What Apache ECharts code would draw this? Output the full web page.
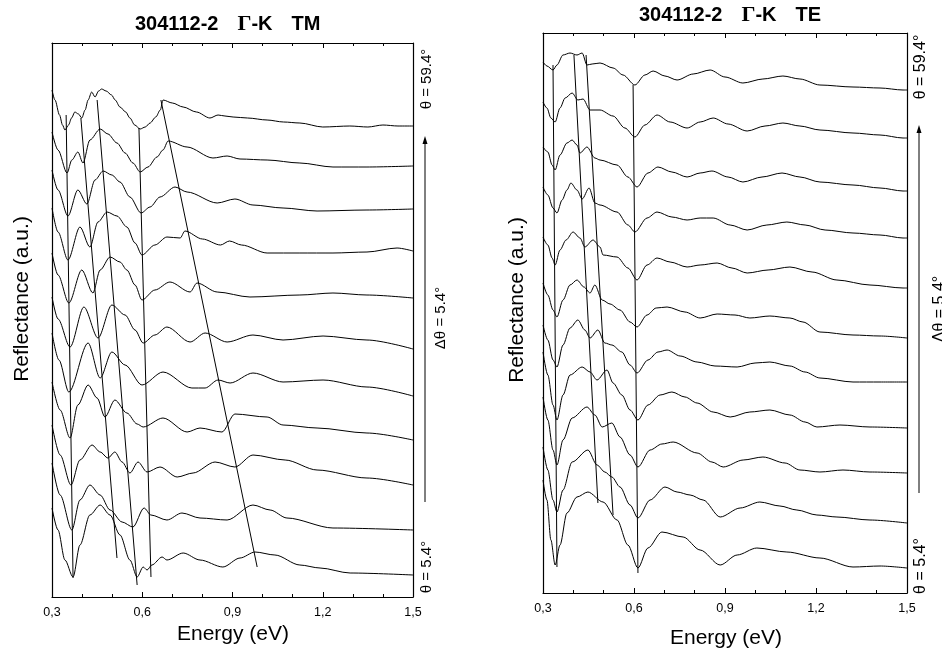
<!DOCTYPE html>
<html><head><meta charset="utf-8">
<script src="https://cdn.jsdelivr.net/npm/echarts/dist/echarts.min.js"></script>
<style>html,body{margin:0;padding:0;background:#fff}#c{width:942px;height:652px}</style>
</head><body><div id="c"></div>
<script>
// angles of incidence, top curve first
const angles = [59.4, 54.0, 48.6, 43.2, 37.8, 32.4, 27.0, 21.6, 16.2, 10.8, 5.4];
const xTicks = [0.3, 0.6, 0.9, 1.2, 1.5];

// ---- TM curves: [energy (eV), reflectance + offset (a.u.)]
const tm1 = [[0.30,50.7],[0.31,49.7],[0.325,48.2],[0.335,47.2],[0.343,46.7],[0.355,47.2],[0.365,47.9],[0.376,48.5],[0.388,48.3],[0.399,47.9],[0.41,48.7],[0.42,49.7],[0.432,50.5],[0.443,50.0],[0.455,50.6],[0.465,50.8],[0.48,50.6],[0.498,50.2],[0.51,49.7],[0.526,49.0],[0.545,48.5],[0.559,47.9],[0.575,47.2],[0.593,46.8],[0.61,47.0],[0.626,47.4],[0.645,48.0],[0.66,48.7],[0.669,49.7],[0.70,49.4],[0.736,49.0],[0.78,48.5],[0.825,47.9],[0.852,48.2],[0.875,48.1],[0.902,48.0],[0.95,47.9],[1.015,47.7],[1.07,47.5],[1.124,47.4],[1.2,47.0],[1.29,47.1],[1.35,47.0],[1.4,47.2],[1.45,47.1],[1.5,47.1]];
const tm2 = [[0.30,46.5],[0.32,44.7],[0.35,42.4],[0.366,43.7],[0.386,44.5],[0.403,43.4],[0.426,45.7],[0.46,46.8],[0.486,46.3],[0.516,45.4],[0.543,44.4],[0.569,43.4],[0.593,42.5],[0.619,43.0],[0.649,44.0],[0.669,44.7],[0.686,45.6],[0.749,45.0],[0.835,43.9],[0.882,44.1],[0.925,43.8],[1.015,43.7],[1.124,43.4],[1.234,43.0],[1.347,43.0],[1.5,43.1]];
const tm3 = [[0.30,42.7],[0.32,40.7],[0.353,38.1],[0.386,40.7],[0.416,39.3],[0.443,41.7],[0.47,42.6],[0.499,42.2],[0.526,41.5],[0.559,40.0],[0.596,38.4],[0.626,39.0],[0.659,40.0],[0.709,41.0],[0.749,40.5],[0.849,39.4],[0.908,39.8],[0.968,39.2],[1.068,38.9],[1.181,38.6],[1.347,38.7],[1.5,38.8]];
const tm4 = [[0.30,38.9],[0.32,36.5],[0.353,33.7],[0.393,37.0],[0.426,35.0],[0.453,37.5],[0.483,38.5],[0.516,38.1],[0.549,37.0],[0.576,35.4],[0.599,34.2],[0.642,35.2],[0.682,36.0],[0.726,35.9],[0.742,36.6],[0.80,35.8],[0.86,35.2],[0.89,35.6],[0.93,35.2],[1.015,34.4],[1.124,34.4],[1.234,34.4],[1.347,34.5],[1.447,34.9],[1.5,34.6]];
const tm5 = [[0.30,34.4],[0.32,32.2],[0.356,29.4],[0.399,32.7],[0.436,30.4],[0.46,32.7],[0.493,34.0],[0.526,33.5],[0.549,32.7],[0.576,31.2],[0.599,29.7],[0.642,30.7],[0.692,31.5],[0.759,30.5],[0.782,31.4],[0.849,30.5],[0.958,30.0],[1.124,30.2],[1.234,30.4],[1.347,30.2],[1.5,29.9]];
const tm6 = [[0.30,30.0],[0.32,27.8],[0.36,25.0],[0.406,29.0],[0.453,25.9],[0.499,29.2],[0.543,28.2],[0.576,26.7],[0.603,25.4],[0.642,26.2],[0.682,27.0],[0.759,25.5],[0.809,26.4],[0.882,25.5],[0.968,26.2],[1.068,25.7],[1.201,26.1],[1.347,25.7],[1.5,24.8]];
const tm7 = [[0.30,26.4],[0.323,23.7],[0.356,20.5],[0.42,25.4],[0.46,21.9],[0.499,24.5],[0.543,23.2],[0.599,21.2],[0.669,22.5],[0.765,20.9],[0.809,20.9],[0.852,21.7],[0.892,21.4],[0.968,22.4],[1.068,21.5],[1.201,21.7],[1.347,21.0],[1.5,20.1]];
const tm8 = [[0.30,21.5],[0.327,18.7],[0.36,15.9],[0.386,19.2],[0.42,21.2],[0.45,19.9],[0.476,18.0],[0.509,19.7],[0.549,18.4],[0.583,17.3],[0.603,17.0],[0.669,17.9],[0.749,16.5],[0.792,16.9],[0.865,16.5],[0.908,18.3],[1.015,18.0],[1.068,17.2],[1.181,16.9],[1.347,16.4],[1.5,15.7]];
const tm9 = [[0.30,17.2],[0.327,14.2],[0.363,11.2],[0.393,13.7],[0.433,15.2],[0.46,14.5],[0.486,13.9],[0.509,14.5],[0.533,13.5],[0.559,12.4],[0.586,13.5],[0.616,12.5],[0.659,13.0],[0.716,12.0],[0.769,12.4],[0.842,13.5],[0.908,13.0],[0.968,14.2],[1.075,13.7],[1.181,12.7],[1.347,11.9],[1.5,11.2]];
const tm10 = [[0.30,13.4],[0.327,10.2],[0.366,6.7],[0.393,9.7],[0.426,11.2],[0.46,10.2],[0.493,8.7],[0.533,7.5],[0.569,7.0],[0.606,8.9],[0.629,8.2],[0.682,7.7],[0.732,8.4],[0.792,7.9],[0.882,7.7],[0.968,9.2],[1.025,8.7],[1.081,7.9],[1.234,6.9],[1.5,6.7]];
const tm11 = [[0.30,8.9],[0.32,6.7],[0.343,3.7],[0.37,2.0],[0.393,5.2],[0.426,8.2],[0.46,9.2],[0.493,8.2],[0.526,6.2],[0.559,3.7],[0.583,2.0],[0.603,3.0],[0.616,2.7],[0.632,3.2],[0.666,4.0],[0.682,3.7],[0.736,4.4],[0.792,3.7],[0.868,3.0],[0.925,3.9],[0.975,4.5],[1.041,4.2],[1.124,3.2],[1.191,2.9],[1.291,2.4],[1.5,2.2]];

// ---- TE curves
const te1 = [[0.30,53.1],[0.313,52.7],[0.333,52.3],[0.346,52.8],[0.366,53.8],[0.389,54.0],[0.412,53.8],[0.429,54.0],[0.445,52.8],[0.462,52.9],[0.488,53.0],[0.531,52.5],[0.564,51.8],[0.603,50.8],[0.636,51.8],[0.663,52.2],[0.702,51.7],[0.742,51.3],[0.795,51.9],[0.851,52.3],[0.90,51.6],[0.959,51.0],[1.025,51.4],[1.091,51.7],[1.147,51.4],[1.213,50.8],[1.322,50.6],[1.411,50.5],[1.487,50.3],[1.5,50.3]];
const te2 = [[0.30,49.1],[0.313,48.5],[0.326,47.5],[0.34,47.1],[0.356,48.5],[0.373,49.5],[0.396,50.0],[0.415,49.3],[0.432,49.4],[0.455,48.3],[0.488,48.3],[0.531,47.7],[0.570,46.5],[0.603,45.6],[0.636,46.8],[0.676,47.8],[0.719,47.1],[0.775,46.5],[0.818,47.1],[0.861,47.5],[0.910,46.9],[0.973,46.2],[1.032,46.7],[1.091,47.0],[1.147,46.7],[1.213,46.3],[1.322,46.0],[1.411,45.8],[1.487,45.5],[1.5,45.5]];
const te3 = [[0.30,44.6],[0.316,44.1],[0.33,42.8],[0.34,42.3],[0.356,43.8],[0.379,45.0],[0.396,45.3],[0.412,44.8],[0.422,44.0],[0.445,44.6],[0.471,43.5],[0.488,43.3],[0.544,42.8],[0.580,41.6],[0.610,40.6],[0.646,42.0],[0.679,42.6],[0.725,42.1],[0.775,41.6],[0.818,42.0],[0.857,42.2],[0.910,41.6],[0.959,41.1],[1.022,41.6],[1.088,42.0],[1.147,41.6],[1.213,41.1],[1.322,40.8],[1.411,40.5],[1.487,40.2],[1.5,40.2]];
const te4 = [[0.30,40.6],[0.316,39.8],[0.333,38.5],[0.346,38.0],[0.363,39.3],[0.379,40.3],[0.392,41.0],[0.412,40.3],[0.429,39.4],[0.452,40.5],[0.471,39.0],[0.488,38.8],[0.544,38.1],[0.580,36.8],[0.603,36.1],[0.643,37.5],[0.676,38.1],[0.725,37.6],[0.775,37.3],[0.818,37.5],[0.861,37.5],[0.917,36.8],[0.973,36.3],[1.038,36.8],[1.104,37.1],[1.164,36.8],[1.230,36.3],[1.322,36.0],[1.411,35.8],[1.487,35.5],[1.5,35.5]];
const te5 = [[0.30,35.6],[0.316,34.8],[0.33,33.5],[0.34,32.8],[0.356,34.3],[0.376,35.3],[0.399,36.1],[0.422,35.5],[0.438,34.6],[0.465,35.3],[0.488,34.6],[0.498,33.8],[0.544,33.6],[0.580,32.5],[0.610,31.3],[0.643,32.8],[0.676,33.5],[0.719,33.1],[0.775,32.6],[0.818,32.8],[0.874,33.0],[0.923,32.5],[0.973,32.0],[1.042,32.3],[1.114,32.6],[1.187,32.1],[1.269,31.3],[1.378,30.8],[1.487,30.5],[1.5,30.5]];
const te6 = [[0.30,31.0],[0.316,29.8],[0.333,28.3],[0.346,27.6],[0.366,29.3],[0.389,30.8],[0.412,31.3],[0.435,30.6],[0.455,30.0],[0.471,30.8],[0.495,29.3],[0.521,28.9],[0.554,28.3],[0.587,27.1],[0.610,26.6],[0.643,27.8],[0.673,28.5],[0.709,28.6],[0.768,28.1],[0.818,27.5],[0.874,27.9],[0.933,27.8],[0.982,27.5],[1.048,27.7],[1.114,27.5],[1.157,27.1],[1.213,26.1],[1.322,25.8],[1.411,25.7],[1.5,25.5]];
const te7 = [[0.30,26.8],[0.316,25.3],[0.333,23.3],[0.346,22.6],[0.366,24.8],[0.389,26.5],[0.415,27.3],[0.438,26.3],[0.455,25.5],[0.481,26.3],[0.504,25.0],[0.527,24.8],[0.560,24.1],[0.587,22.8],[0.610,22.0],[0.646,23.3],[0.679,24.1],[0.709,24.3],[0.752,23.7],[0.808,23.1],[0.867,22.7],[0.940,22.6],[0.999,23.0],[1.048,23.1],[1.114,22.7],[1.164,22.1],[1.213,21.5],[1.322,21.1],[1.411,21.1],[1.5,21.1]];
const te8 = [[0.30,24.1],[0.316,21.8],[0.333,18.8],[0.346,17.3],[0.366,19.8],[0.389,21.8],[0.429,22.6],[0.455,22.1],[0.478,21.3],[0.511,22.3],[0.531,21.0],[0.560,19.8],[0.587,18.3],[0.613,17.3],[0.646,18.8],[0.686,19.8],[0.725,20.1],[0.768,19.6],[0.808,19.0],[0.861,18.1],[0.917,17.6],[0.982,18.1],[1.048,18.3],[1.114,17.8],[1.164,17.1],[1.203,16.6],[1.279,16.8],[1.378,16.6],[1.5,16.5]];
const te9 = [[0.30,19.6],[0.316,17.3],[0.333,14.3],[0.346,12.8],[0.366,15.3],[0.396,17.5],[0.445,18.6],[0.471,17.8],[0.495,16.6],[0.527,17.0],[0.554,15.6],[0.587,13.8],[0.613,12.6],[0.653,14.3],[0.692,14.9],[0.729,15.1],[0.808,14.0],[0.857,13.1],[0.894,12.6],[0.960,13.3],[1.025,13.6],[1.098,13.0],[1.147,12.3],[1.213,12.1],[1.289,12.3],[1.378,12.1],[1.5,12.0]];
const te10 = [[0.30,14.6],[0.316,12.3],[0.333,9.3],[0.346,8.1],[0.366,10.3],[0.396,13.1],[0.448,14.3],[0.478,12.8],[0.504,12.1],[0.527,11.6],[0.554,10.6],[0.587,8.8],[0.613,7.5],[0.653,9.3],[0.702,10.6],[0.742,10.1],[0.785,9.8],[0.828,9.3],[0.884,7.6],[0.950,8.5],[1.015,9.1],[1.081,8.7],[1.137,8.3],[1.203,7.8],[1.269,7.6],[1.378,7.3],[1.5,7.0]];
const te11 = [[0.30,11.3],[0.313,9.3],[0.326,5.3],[0.340,2.8],[0.356,4.8],[0.379,8.0],[0.412,9.6],[0.448,10.1],[0.498,9.1],[0.544,7.3],[0.580,4.8],[0.613,2.5],[0.646,4.5],[0.692,6.1],[0.762,5.6],[0.818,4.3],[0.884,2.8],[0.940,3.8],[1.005,4.5],[1.104,4.1],[1.213,3.5],[1.322,2.6],[1.411,2.7],[1.5,2.5]];

// ---- guide lines following the features (start/end in data units)
const tmGuides = [
  [[0.347,48.2],[0.370,1.9]],
  [[0.396,47.9],[0.516,3.9]],
  [[0.450,49.7],[0.583,1.2]],
  [[0.589,46.9],[0.629,2.0]],
  [[0.662,49.7],[0.982,3.0]]
];
const teGuides = [
  [[0.333,52.8],[0.346,2.6]],
  [[0.402,53.8],[0.481,9.0]],
  [[0.442,53.8],[0.531,7.8]],
  [[0.597,50.8],[0.613,2.0]]
];

const tmCurves = [tm1,tm2,tm3,tm4,tm5,tm6,tm7,tm8,tm9,tm10,tm11];
const teCurves = [te1,te2,te3,te4,te5,te6,te7,te8,te9,te10,te11];

const FONT = '"Liberation Sans", Arial, sans-serif';

function xAxesFor(grid){
  const common = {
    gridIndex: grid, type: 'value', min: xTicks[0], max: xTicks[xTicks.length-1], interval: 0.3,
    axisLine: {show: true, onZero: false, lineStyle: {color: '#000', width: 1.2}},
    axisTick: {show: true, inside: true, length: 5, lineStyle: {color: '#000', width: 1}},
    minorTick: {show: true, splitNumber: 3, length: 3, lineStyle: {color: '#000', width: 1}},
    splitLine: {show: false}, minorSplitLine: {show: false}
  };
  return [
    Object.assign({}, common, {position: 'bottom',
      axisLabel: {show: true, margin: 9, color: '#000', fontSize: 12.5, fontFamily: FONT,
        formatter: v => v.toFixed(1).replace('.', ',')}}),
    Object.assign({}, common, {position: 'top', axisLabel: {show: false}})
  ];
}
function yAxesFor(grid, max){
  const common = {gridIndex: grid, type: 'value', min: 0, max: max,
    axisLine: {show: true, onZero: false, lineStyle: {color: '#000', width: 1.2}},
    axisTick: {show: false}, axisLabel: {show: false}, splitLine: {show: false}};
  return [Object.assign({}, common, {position: 'left'}), Object.assign({}, common, {position: 'right'})];
}

const series = [];
tmCurves.forEach((d, i) => series.push({
  name: 'TM θ=' + angles[i] + '°', type: 'line', xAxisIndex: 0, yAxisIndex: 0, data: d,
  showSymbol: false, smooth: 0.3, smoothMonotone: 'x', silent: true,
  lineStyle: {color: '#000', width: 1}
}));
teCurves.forEach((d, i) => series.push({
  name: 'TE θ=' + angles[i] + '°', type: 'line', xAxisIndex: 2, yAxisIndex: 2, data: d,
  showSymbol: false, smooth: 0.3, smoothMonotone: 'x', silent: true,
  lineStyle: {color: '#000', width: 1}
}));
tmGuides.forEach(d => series.push({type: 'line', xAxisIndex: 0, yAxisIndex: 0, data: d,
  showSymbol: false, silent: true, lineStyle: {color: '#000', width: 1}}));
teGuides.forEach(d => series.push({type: 'line', xAxisIndex: 2, yAxisIndex: 2, data: d,
  showSymbol: false, silent: true, lineStyle: {color: '#000', width: 1}}));

function titleRich(){
  return {
    b: {fontSize: 20, fontWeight: 'bold', fontFamily: FONT, color: '#000', lineHeight: 22},
    g: {fontSize: 22, fontFamily: '"Liberation Serif", serif', color: '#000', lineHeight: 22},
    s: {width: 19, lineHeight: 22}
  };
}

function vtext(x, y, text, size){
  return {type: 'text', x: x, y: y, rotation: Math.PI/2, silent: true,
    style: {text: text, x: 0, y: 0, fill: '#000', font: size + 'px ' + FONT,
      align: 'center', verticalAlign: 'middle', textAlign: 'center', textVerticalAlign: 'middle'}};
}
function htext(x, y, text, size){
  return {type: 'text', x: x, y: y, silent: true,
    style: {text: text, x: 0, y: 0, fill: '#000', font: size + 'px ' + FONT,
      align: 'center', verticalAlign: 'middle', textAlign: 'center', textVerticalAlign: 'middle'}};
}
function arrow(x, y1, y2){
  return [
    {type: 'line', silent: true, shape: {x1: x, y1: y1 + 4, x2: x, y2: y2}, style: {stroke: '#000', lineWidth: 1}},
    {type: 'polygon', silent: true, shape: {points: [[x, y1], [x - 2.5, y1 + 8], [x + 2.5, y1 + 8]]}, style: {fill: '#000'}}
  ];
}

const option = {
  animation: false,
  backgroundColor: '#fff',
  title: [
    {text: '{b|304112-2}{s| }{g|Γ}{b|-K}{s| }{b|TM}', left: 135, top: 13, padding: 0, textStyle: {rich: titleRich()}},
    {text: '{b|304112-2}{s| }{g|Γ}{b|-K}{s| }{b|TE}', left: 639, top: 4, padding: 0, textStyle: {rich: titleRich()}}
  ],
  grid: [
    {left: 52, top: 43, width: 361, height: 554},
    {left: 543, top: 33, width: 364, height: 560}
  ],
  xAxis: xAxesFor(0).concat(xAxesFor(1)),
  yAxis: yAxesFor(0, 55.4).concat(yAxesFor(1, 56.0)),
  series: series,
  graphic: [
    vtext(22, 299, 'Reflectance (a.u.)', 21),
    vtext(517, 300, 'Reflectance (a.u.)', 21),
    htext(233, 634, 'Energy (eV)', 21),
    htext(726, 638, 'Energy (eV)', 21),
    vtext(427, 79, 'θ = 59.4°', 15),
    vtext(427, 567, 'θ = 5.4°', 15),
    vtext(441, 318, 'Δθ = 5.4°', 15),
    vtext(921, 67, 'θ = 59.4°', 16),
    vtext(921, 566, 'θ = 5.4°', 16),
    vtext(940, 309, 'Δθ = 5.4°', 16)
  ].concat(arrow(425, 136, 502)).concat(arrow(919, 125, 493))
};

const chart = echarts.init(document.getElementById('c'), null, {renderer: 'canvas'});
chart.setOption(option);
</script></body></html>
